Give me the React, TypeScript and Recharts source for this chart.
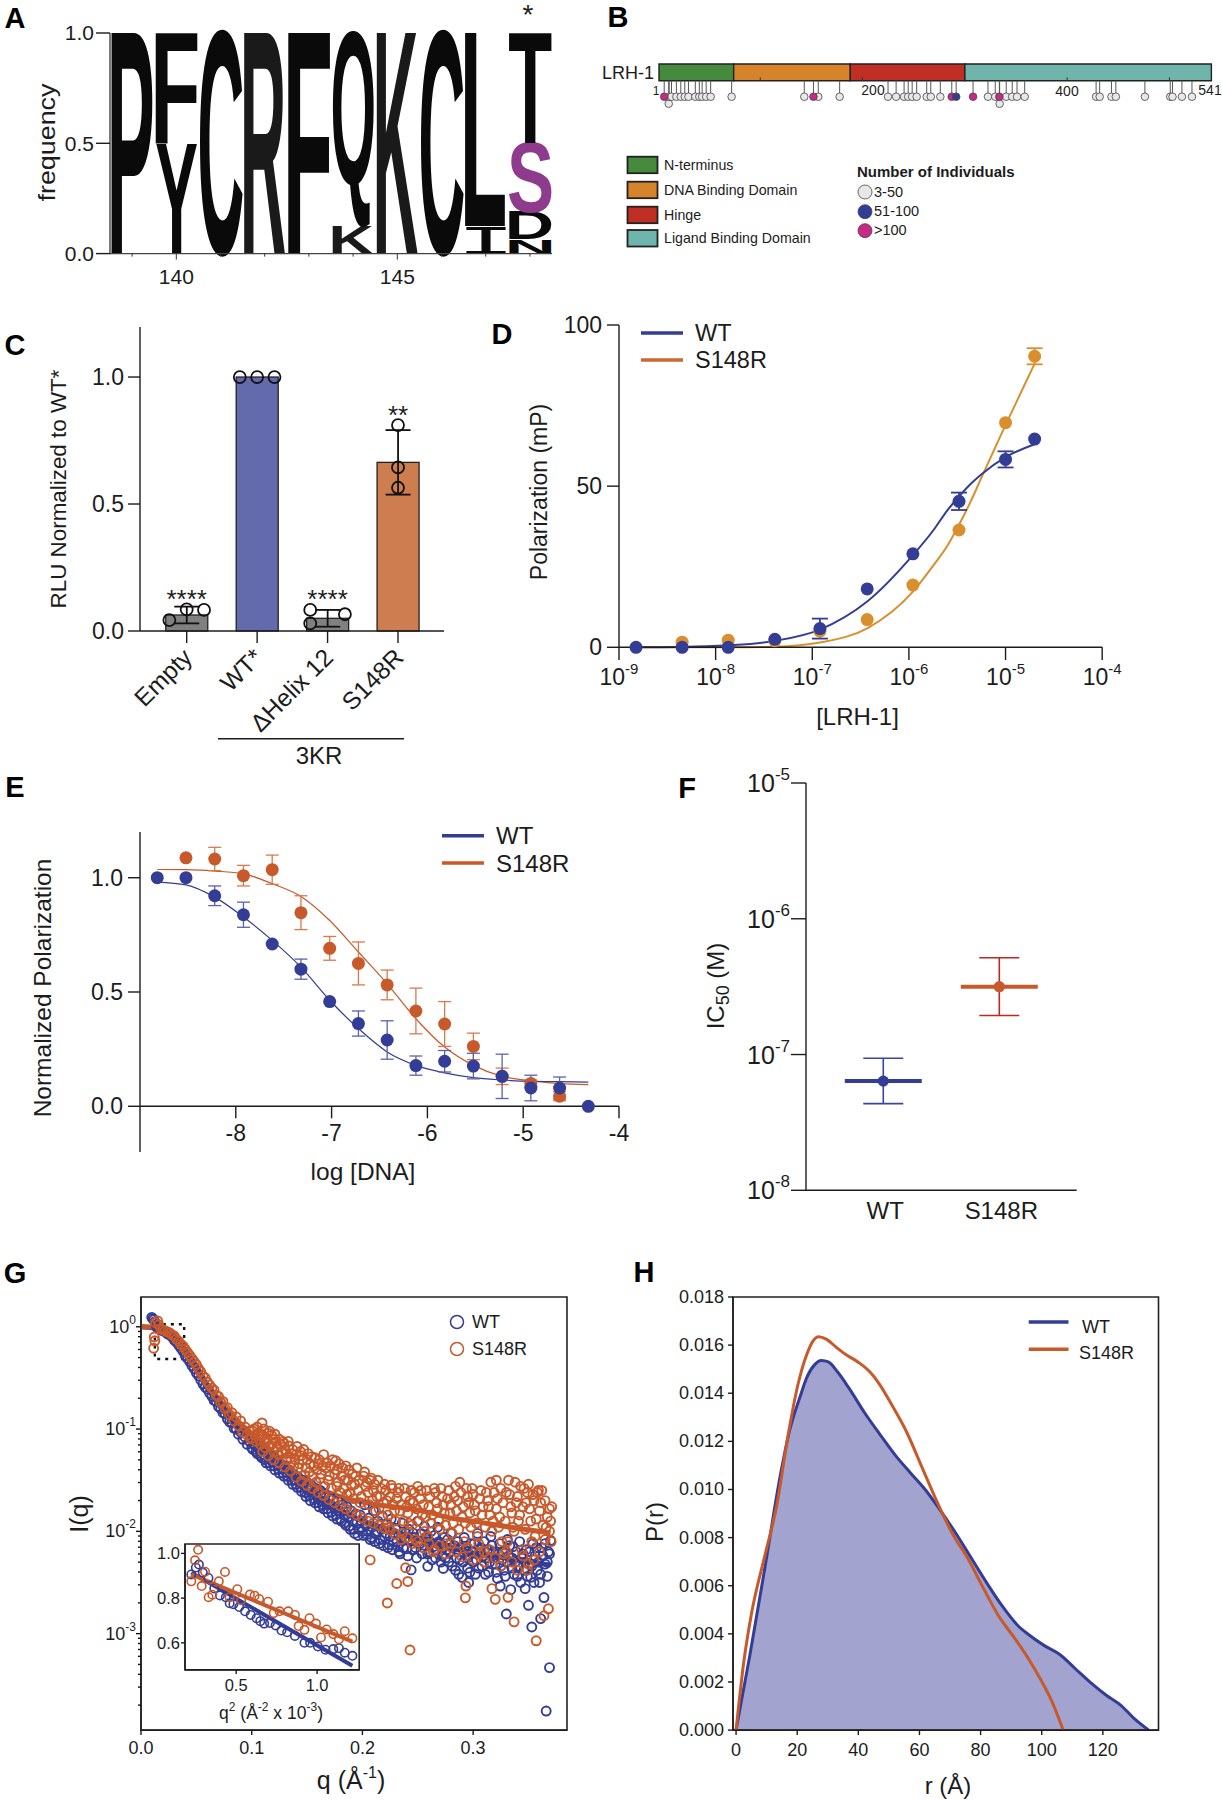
import React from 'react';
import {
  ComposedChart,
  Bar,
  Line,
  Area,
  Scatter,
  XAxis,
  YAxis,
  ErrorBar,
  ReferenceArea,
  ReferenceLine,
} from 'recharts';

const FONT = '"Liberation Sans", Arial, sans-serif';
const INK = '#1c1c1c';
const BLUE = '#343d96';
const RED = '#c8592a';
const GOLD = '#d98f2e';

// A: sequence logo, bottom of each stack first
const logoPositions = [139, 140, 141, 142, 143, 144, 145, 146, 147, 148];
const logoStacks: [string, number][][] = [
  [['P', 1]],
  [['Y', 0.5], ['F', 0.5]],
  [['C', 1]],
  [['R', 1]],
  [['F', 1]],
  [['K', 0.125], ['Q', 0.875]],
  [['K', 1]],
  [['C', 1]],
  [['I', 0.125], ['L', 0.875]],
  [['N', 0.065], ['D', 0.125], ['S', 0.31], ['T', 0.5]],
];

// B: protein domains and variant positions
const domains = [
  { name: 'N-terminus', from: 1, to: 74, color: '#468a3e' },
  { name: 'DNA Binding Domain', from: 74, to: 188, color: '#d5842c' },
  { name: 'Hinge', from: 188, to: 300, color: '#c12e24' },
  { name: 'Ligand Binding Domain', from: 300, to: 541, color: '#6fb5ac' },
];
const variantsLow = [10.9, 13.2, 18, 22.3, 26.2, 29.8, 36.5, 40.4, 43.2, 47.1, 51.5, 72, 143, 156.7, 177.6, 224.9, 232.8, 240.6, 244.6, 248.5, 252.9, 262.7, 266.7, 276, 322.6, 329.7, 340.4, 346.3, 351, 358.5, 428.3, 431.8, 443.3, 447.6, 476, 500.8, 503, 512.2, 522];
const variantsMid = [291.5];
const variantsHigh = [6.1, 152, 287.2, 308, 333.7];
const variantsLowerRow = [10.5, 334];
const domainTicks = [100, 200, 300, 400, 500];

// C: reporter assay
const assayNames = ['Empty', 'WT*', 'ΔHelix 12', 'S148R'];
const assayMeans = [0.063, 1, 0.05, 0.664];
const assayErrors = [0.033, 0, 0.033, 0.127];
const assayColors = ['#808080', '#636bac', '#808080', '#cd7d4f'];
const assayReplicates = [
  [0.754, 0.043], [1, 0.085], [1.246, 0.083],
  [1.754, 1], [2, 1], [2.246, 1],
  [2.754, 0.083], [2.754, 0.03], [3.246, 0.066],
  [4, 0.811], [4, 0.644], [4, 0.564],
];
const assayStars: [number, number, string][] = [[1, 0.15, '****'], [3, 0.148, '****'], [4, 0.875, '**']];

// D: polarization
const bindX = [1.5e-9, 4.5e-9, 1.35e-8, 4.1e-8, 1.2e-7, 3.7e-7, 1.1e-6, 3.3e-6, 1e-5, 2e-5];
const bindWt = [0, 0, 0, 2.5, 5.8, 18.1, 29, 45.3, 58.3, 64.6];
const bindWtErr = [0, 0, 0, 0, 3.1, 0, 0, 2.7, 2.5, 0];
const bindMut = [0, 1.6, 2.2, 2, 5, 8.6, 19.3, 36.4, 69.7, 90.3];
const bindMutErr = [0, 0, 0, 0, 0, 0, 0, 0, 0, 2.5];
const bindCurveX = [1.5e-9, 4.5e-9, 1.35e-8, 4.1e-8, 1.2e-7, 3.7e-7, 1.1e-6, 1.8e-6, 2.5e-6, 3.3e-6, 4.4e-6, 5.6e-6, 1e-5, 2e-5];
const bindCurveWt = [0, 0.1, 0.6, 2, 5.5, 14.2, 28.6, 36.4, 42.5, 46.8, 50.8, 53.6, 59, 63];
const bindCurveMut = [0, 0, 0, 0.2, 1.5, 5.9, 17.3, 25.5, 31.5, 38, 45.5, 52.5, 69, 88];

// E: competition
const compX = [-8.82, -8.52, -8.22, -7.92, -7.62, -7.32, -7.02, -6.72, -6.42, -6.12, -5.82, -5.52, -5.22, -4.92, -4.62, -4.32];
const compWt = [1, 1, 0.921, 0.838, 0.71, 0.6, 0.458, 0.362, 0.29, 0.178, 0.197, 0.176, 0.131, 0.08, 0.08, 0];
const compWtErr = [0, 0, 0.043, 0.055, 0, 0.044, 0, 0.055, 0.084, 0.042, 0.047, 0.056, 0.097, 0.056, 0.048, 0];
const compMutX = [-8.52, -8.22, -7.92, -7.62, -7.32, -7.02, -6.72, -6.42, -6.12, -5.82, -5.52, -5.22, -4.92, -4.62];
const compMut = [1.087, 1.082, 1.009, 1.035, 0.847, 0.691, 0.625, 0.531, 0.417, 0.36, 0.262, 0.131, 0.1, 0.044];
const compMutErr = [0, 0.051, 0.045, 0.064, 0.074, 0.052, 0.094, 0.065, 0.1, 0.098, 0.058, 0.036, 0.015, 0.02];
const compCurveWt = [0.981, 0.969, 0.915, 0.828, 0.726, 0.609, 0.464, 0.34, 0.238, 0.179, 0.146, 0.125, 0.115, 0.109, 0.108, 0.106];
const compCurveMut = [1.036, 1.035, 1.029, 1.017, 0.974, 0.918, 0.813, 0.675, 0.536, 0.383, 0.259, 0.179, 0.131, 0.111, 0.099, 0.095];

// F: IC50 [mean, lower, upper]
const ic50Wt = [6.37e-8, 4.35e-8, 9.4e-8];
const ic50Mut = [3.16e-7, 1.94e-7, 5.16e-7];

// G: SAXS, [q, log10 I]
const saxsWt = [[.0097,.092],[.0105,.08],[.0115,.07],[.0125,.05],[.014,.0],[.016,-.02],[.018,-.03],[.02,-.04],[.022,-.05],[.024,-.07],[.026,-.08],[.028,-.1],[.03,-.13],[.032,-.15],[.034,-.18],[.036,-.21],[.038,-.24],[.04,-.28],[.042,-.31],[.044,-.34],[.046,-.38],[.048,-.41],[.05,-.45],[.052,-.48],[.054,-.52],[.056,-.56],[.058,-.59],[.06,-.61],[.062,-.65],[.064,-.68],[.066,-.72],[.068,-.73],[.07,-.78],[.072,-.8],[.074,-.84],[.076,-.85],[.078,-.9],[.08,-.93],[.082,-.94],[.084,-.99],[.086,-1],[.088,-1.05],[.09,-1.03],[.092,-1.1],[.094,-1.08],[.096,-1.15],[.098,-1.12],[.1,-1.18],[.102,-1.14],[.104,-1.22],[.106,-1.18],[.108,-1.26],[.11,-1.21],[.112,-1.3],[.114,-1.24],[.116,-1.33],[.118,-1.27],[.12,-1.36],[.122,-1.31],[.124,-1.39],[.126,-1.34],[.128,-1.43],[.13,-1.36],[.132,-1.46],[.134,-1.4],[.136,-1.5],[.138,-1.44],[.14,-1.54],[.142,-1.47],[.144,-1.57],[.146,-1.5],[.148,-1.62],[.15,-1.52],[.152,-1.65],[.154,-1.55],[.156,-1.68],[.158,-1.58],[.16,-1.72],[.162,-1.6],[.164,-1.74],[.166,-1.63],[.168,-1.78],[.17,-1.66],[.172,-1.81],[.174,-1.68],[.176,-1.84],[.178,-1.7],[.18,-1.88],[.182,-1.74],[.184,-1.92],[.186,-1.76],[.188,-1.95],[.19,-1.8],[.192,-1.98],[.194,-1.83],[.196,-2.04],[.198,-1.84],[.2,-2],[.202,-1.74],[.204,-2.03],[.206,-1.87],[.208,-2.06],[.21,-1.8],[.212,-2.02],[.214,-1.9],[.216,-2.08],[.218,-1.85],[.22,-2.05],[.222,-1.93],[.224,-2.13],[.226,-1.88],[.228,-2.1],[.23,-1.97],[.232,-2.15],[.234,-2.22],[.236,-1.92],[.238,-2.08],[.24,-2.17],[.242,-1.98],[.244,-2.377],[.246,-2.02],[.248,-2.16],[.25,-1.9],[.252,-2.12],[.254,-2.22],[.256,-1.95],[.258,-2.1],[.259,-2.342],[.26,-2.2],[.262,-2],[.264,-2.15],[.266,-2.26],[.268,-1.96],[.27,-2.12],[.272,-2.24],[.273,-2.363],[.274,-2.06],[.276,-2.18],[.278,-2.3],[.28,-2.02],[.282,-2.16],[.284,-2.38],[.286,-2.1],[.288,-2.28],[.29,-2.45],[.292,-2.06],[.294,-2.2],[.295,-2.36],[.296,-2.5],[.298,-2.12],[.3,-2.3],[.302,-2.42],[.304,-2.02],[.306,-2.18],[.308,-2.34],[.31,-2.1],[.312,-2.26],[.314,-2.4],[.316,-2.05],[.318,-2.2],[.32,-2.32],[.322,-2.46],[.3245,-2.535],[.324,-2.12],[.326,-2.28],[.328,-2.38],[.33,-2.808],[.331,-2.08],[.332,-2.24],[.334,-2.57],[.335,-2.36],[.336,-2.15],[.338,-2.3],[.34,-2.44],[.342,-2.1],[.344,-2.26],[.346,-2.38],[.347,-2.56],[.348,-2.18],[.35,-2.723],[.351,-2.32],[.352,-2.45],[.353,-2.935],[.354,-2.12],[.356,-2.24],[.358,-2.38],[.36,-2.5],[.361,-2.853],[.362,-2.16],[.364,-2.647],[.365,-2.32],[.366,-3.757],[.367,-2.44],[.368,-2.2],[.369,-3.332],[.37,-2.09]];
const saxsWtDense = [[.101,-1.2],[.103,-1.16],[.105,-1.24],[.107,-1.2],[.109,-1.28],[.111,-1.25],[.113,-1.33],[.115,-1.28],[.117,-1.36],[.119,-1.32],[.121,-1.4],[.123,-1.35],[.125,-1.43],[.127,-1.38],[.129,-1.46],[.131,-1.42],[.133,-1.5],[.135,-1.44],[.137,-1.54],[.139,-1.5],[.141,-1.57],[.143,-1.52],[.145,-1.61],[.147,-1.55],[.149,-1.66],[.151,-1.6],[.153,-1.7],[.155,-1.62],[.157,-1.72],[.159,-1.66],[.161,-1.76],[.163,-1.7],[.165,-1.78],[.167,-1.72],[.169,-1.82],[.171,-1.74],[.173,-1.85],[.175,-1.78],[.177,-1.88],[.179,-1.8],[.181,-1.9],[.183,-1.84],[.185,-1.94],[.187,-1.86],[.189,-1.98],[.191,-1.9],[.193,-2.02],[.195,-1.92],[.197,-1.98],[.199,-1.9],[.201,-2.04],[.203,-1.94],[.205,-2],[.207,-2.08],[.209,-1.96],[.211,-2.1],[.213,-2],[.215,-2.12],[.217,-1.98],[.219,-2.14],[.221,-2.02],[.223,-2.16],[.225,-2.05],[.227,-2.18],[.229,-2.02],[.231,-2.1],[.233,-2.2],[.235,-2.06],[.237,-2.16],[.239,-2.02],[.241,-2.24],[.243,-2.08],[.245,-2.18],[.247,-2.06],[.249,-2.26],[.251,-2.1],[.253,-2.02],[.255,-2.16],[.257,-2.06],[.259,-2.22],[.261,-2.1],[.263,-2.28],[.265,-2.04],[.267,-2.18],[.269,-2.1],[.271,-2.3],[.273,-2.16],[.275,-2.26],[.277,-2.08],[.279,-2.2],[.281,-2.34],[.283,-2.14],[.285,-2.26],[.287,-2.42],[.289,-2.16],[.291,-2.3],[.293,-2.18],[.295,-2.26],[.297,-2.4],[.299,-2.2],[.301,-2.12],[.303,-2.28],[.305,-2.36],[.307,-2.16],[.309,-2.24],[.311,-2.42],[.313,-2.18],[.315,-2.3],[.317,-2.14],[.319,-2.26],[.321,-2.4],[.323,-2.22],[.325,-2.34],[.327,-2.2],[.329,-2.44],[.331,-2.3],[.333,-2.14],[.335,-2.26],[.337,-2.42],[.339,-2.2],[.341,-2.34],[.343,-2.5],[.345,-2.22],[.347,-2.3],[.349,-2.44],[.351,-2.2],[.353,-2.34],[.355,-2.5],[.357,-2.16],[.359,-2.3],[.361,-2.42],[.363,-2.24],[.365,-2.12],[.367,-2.3],[.369,-2.22]];
const saxsMut = [[.0114,-.21],[.0125,-.137],[.012,-.1],[.013,.04],[.015,.058],[.016,.02],[.018,-.02],[.02,-.03],[.022,-.04],[.024,-.05],[.026,-.06],[.028,-.08],[.03,-.09],[.032,-.12],[.034,-.14],[.036,-.17],[.038,-.19],[.04,-.22],[.042,-.25],[.044,-.28],[.046,-.31],[.048,-.34],[.05,-.37],[.052,-.41],[.054,-.44],[.056,-.48],[.058,-.5],[.06,-.54],[.062,-.57],[.064,-.6],[.066,-.62],[.068,-.67],[.07,-.68],[.072,-.74],[.074,-.73],[.076,-.8],[.078,-.79],[.08,-.86],[.082,-.84],[.084,-.92],[.086,-.88],[.088,-.97],[.09,-.92],[.092,-1.03],[.094,-.98],[.096,-1.06],[.098,-1.02],[.099,-1.096],[.1,-1.09],[.102,-1],[.104,-1.12],[.106,-1.04],[.108,-1.15],[.1093,-.94],[.11,-1.07],[.112,-1.18],[.114,-1.09],[.116,-1.02],[.118,-1.06],[.12,-1.22],[.122,-1.12],[.124,-1.25],[.126,-1.15],[.128,-1.12],[.13,-1.2],[.132,-1.3],[.1336,-1.165],[.136,-1.24],[.138,-1.36],[.14,-1.25],[.142,-1.38],[.144,-1.22],[.146,-1.3],[.148,-1.45],[.15,-1.3],[.152,-1.42],[.154,-1.27],[.156,-1.36],[.158,-1.52],[.16,-1.34],[.162,-1.48],[.164,-1.36],[.166,-1.56],[.168,-1.33],[.17,-1.46],[.172,-1.58],[.176,-1.31],[.177,-1.4],[.178,-1.52],[.18,-1.62],[.182,-1.38],[.184,-1.5],[.186,-1.64],[.188,-1.4],[.19,-1.55],[.192,-1.68],[.194,-1.46],[.196,-1.6],[.198,-1.72],[.202,-1.42],[.203,-1.56],[.204,-1.52],[.206,-1.74],[.207,-2.279],[.208,-1.48],[.21,-1.6],[.212,-1.8],[.214,-1.5],[.216,-1.66],[.218,-1.86],[.22,-1.54],[.222,-1.7],[.2225,-2.7],[.224,-1.96],[.226,-1.55],[.228,-1.74],[.23,-1.9],[.231,-2.51],[.232,-1.62],[.234,-1.8],[.236,-2.02],[.238,-1.58],[.239,-2.356],[.24,-1.76],[.241,-2.49],[.242,-1.92],[.243,-3.16],[.244,-1.6],[.246,-1.72],[.248,-2.08],[.25,-1.56],[.252,-1.68],[.254,-1.84],[.256,-2],[.258,-1.6],[.26,-1.76],[.262,-1.92],[.264,-2.2],[.266,-1.62],[.268,-1.78],[.27,-1.98],[.272,-1.66],[.274,-1.82],[.276,-2.12],[.278,-1.6],[.28,-1.74],[.282,-1.92],[.284,-1.56],[.286,-1.7],[.288,-1.52],[.29,-1.86],[.292,-2.1],[.293,-2.65],[.2935,-2.535],[.294,-1.58],[.296,-1.72],[.298,-1.96],[.3,-1.64],[.302,-1.8],[.304,-2.05],[.306,-1.68],[.308,-1.84],[.31,-2.2],[.312,-1.62],[.314,-1.76],[.316,-1.52],[.317,-2.56],[.318,-1.9],[.32,-2.665],[.321,-1.5],[.322,-1.68],[.324,-1.86],[.326,-2.1],[.328,-2.22],[.33,-1.62],[.3315,-2.645],[.332,-1.5],[.334,-1.76],[.336,-1.96],[.337,-2.885],[.338,-1.52],[.34,-1.66],[.342,-1.84],[.344,-2.18],[.346,-1.58],[.348,-1.72],[.349,-2.38],[.35,-1.54],[.352,-1.9],[.354,-1.64],[.356,-2.05],[.357,-3.07],[.358,-1.62],[.36,-1.8],[.362,-1.6],[.364,-2.825],[.365,-1.7],[.366,-1.96],[.368,-2.757],[.369,-1.78],[.37,-1.9],[.3705,-2.1],[.371,-1.76]];
const saxsMutDense = [[.101,-1.02],[.103,-1.06],[.105,-.98],[.107,-1.1],[.109,-1.05],[.111,-1],[.113,-1.13],[.115,-1.04],[.117,-1.16],[.119,-1.1],[.121,-1.05],[.123,-1.18],[.125,-1.1],[.127,-1.22],[.129,-1.14],[.131,-1.24],[.133,-1.12],[.135,-1.28],[.137,-1.2],[.139,-1.3],[.141,-1.17],[.143,-1.34],[.145,-1.26],[.147,-1.2],[.149,-1.38],[.151,-1.24],[.153,-1.34],[.155,-1.46],[.157,-1.28],[.159,-1.4],[.161,-1.3],[.163,-1.44],[.165,-1.25],[.167,-1.38],[.169,-1.5],[.171,-1.36],[.173,-1.3],[.175,-1.44],[.177,-1.56],[.179,-1.34],[.181,-1.46],[.183,-1.58],[.185,-1.36],[.187,-1.5],[.189,-1.62],[.191,-1.44],[.193,-1.54],[.195,-1.38],[.197,-1.5],[.199,-1.66],[.201,-1.46],[.205,-1.62],[.207,-1.5],[.209,-1.7],[.211,-1.54],[.213,-1.66],[.215,-1.78],[.217,-1.58],[.219,-1.72],[.221,-1.6],[.223,-1.84],[.225,-1.66],[.227,-1.58],[.229,-1.8],[.231,-1.68],[.233,-1.58],[.235,-1.74],[.237,-1.9],[.239,-1.66],[.241,-1.82],[.243,-1.7],[.245,-1.94],[.247,-1.62],[.249,-1.78],[.251,-1.9],[.253,-1.6],[.255,-1.74],[.257,-1.86],[.259,-2.05],[.261,-1.66],[.263,-1.84],[.265,-1.58],[.267,-1.72],[.269,-1.9],[.271,-1.58],[.273,-1.74],[.275,-1.94],[.277,-1.68],[.279,-1.82],[.281,-2.02],[.283,-1.66],[.285,-1.8],[.287,-1.98],[.289,-1.62],[.291,-1.76],[.293,-1.92],[.295,-1.66],[.297,-1.82],[.299,-1.58],[.301,-1.74],[.303,-1.92],[.305,-2.12],[.307,-1.6],[.309,-1.76],[.311,-1.96],[.313,-1.7],[.315,-1.84],[.317,-2],[.319,-1.62],[.321,-1.78],[.323,-1.96],[.325,-1.58],[.327,-1.72],[.329,-1.9],[.331,-2.1],[.333,-1.64],[.335,-1.82],[.337,-2],[.339,-1.72],[.341,-1.9],[.343,-1.56],[.345,-1.76],[.347,-1.98],[.349,-1.62],[.351,-1.78],[.353,-2.1],[.355,-1.7],[.357,-1.88],[.359,-1.6],[.361,-1.72],[.363,-1.94],[.365,-2.08],[.367,-1.86],[.369,-2]];
const saxsMutLow = [[.11,-1.22],[.115,-1.26],[.12,-1.3],[.125,-1.33],[.13,-1.37],[.135,-1.41],[.14,-1.47],[.145,-1.51],[.15,-1.55],[.155,-1.58],[.16,-1.62],[.165,-1.65],[.17,-1.69],[.175,-1.72],[.18,-1.75],[.185,-1.78],[.19,-1.81],[.195,-1.84],[.2,-1.87],[.205,-1.9],[.21,-1.92],[.215,-1.94],[.22,-1.97],[.225,-1.99],[.23,-2.03],[.235,-2.08],[.24,-2.06],[.245,-2.12],[.25,-2.1],[.255,-2.16],[.26,-2.12],[.265,-2.18],[.27,-2.14],[.275,-2.22],[.28,-2.12],[.285,-2.2],[.29,-2.25],[.295,-2.16],[.3,-2.28],[.305,-2.22],[.31,-2.3],[.315,-2.18],[.32,-2.26],[.325,-2.34],[.33,-2.2],[.335,-2.3],[.34,-2.38],[.345,-2.24],[.35,-2.32],[.355,-2.28],[.36,-2.2]];
const saxsFitWt = [[.0001,0],[.01,-.01],[.02,-.04],[.03,-.12],[.04,-.27],[.05,-.43],[.06,-.6],[.07,-.76],[.08,-.9],[.1,-1.11],[.12,-1.3],[.14,-1.507],[.16,-1.68],[.18,-1.8],[.2,-1.9],[.22,-1.97],[.24,-2.04],[.26,-2.1],[.28,-2.157],[.3,-2.21],[.32,-2.245],[.34,-2.28],[.37,-2.33]];
const saxsFitMut = [[.0001,0],[.01,-.005],[.02,-.035],[.03,-.1],[.04,-.22],[.05,-.38],[.06,-.565],[.07,-.7],[.08,-.84],[.1,-1.045],[.12,-1.233],[.14,-1.44],[.16,-1.575],[.18,-1.66],[.2,-1.714],[.22,-1.75],[.24,-1.775],[.26,-1.815],[.28,-1.87],[.3,-1.9],[.32,-1.936],[.34,-1.97],[.37,-2.015]];

// G inset: Guinier region [q^2, I]
const guinierWt = [[.223,.906],[.251,.937],[.27,.95],[.294,.914],[.329,.89],[.365,.843],[.4,.812],[.436,.804],[.46,.777],[.483,.773],[.519,.76],[.555,.741],[.59,.725],[.626,.71],[.649,.697],[.673,.686],[.709,.689],[.744,.678],[.78,.655],[.815,.647],[.863,.631],[.922,.6],[.957,.6],[1.005,.584],[1.052,.569],[1.1,.572],[1.135,.576],[1.171,.556],[1.218,.542]];
const guinierMut = [[.223,.875],[.246,.969],[.265,1.016],[.287,.854],[.308,.918],[.33,.804],[.353,.815],[.393,.875],[.431,.917],[.46,.804],[.507,.84],[.531,.791],[.585,.816],[.614,.811],[.642,.796],[.697,.784],[.732,.733],[.768,.741],[.822,.741],[.863,.725],[.886,.675],[.922,.658],[.953,.71],[.993,.686],[1.024,.624],[1.059,.66],[1.1,.639],[1.135,.616],[1.171,.652],[1.218,.62]];
const guinierFitWt = [[.223,.914],[1.218,.498]];
const guinierFitMut = [[.223,.906],[1.218,.605]];

// H: P(r)
const prWt = [[0,0],[4.5,.0031],[9.5,.0068],[14.5,.0106],[17.6,.0125],[20.8,.0138],[23.3,.0147],[25.8,.0152],[27.9,.01536],[30.2,.0153],[33.3,.01487],[37,.0142],[42,.0132],[47,.0123],[52,.01144],[57,.0107],[62,.00998],[67,.0091],[72,.00816],[77,.00714],[82,.00612],[87,.00517],[92,.00437],[96,.00394],[101,.0035],[106,.00313],[111,.00255],[116,.00197],[121,.00146],[126,.00102],[130,.00051],[135,0]];
const prMut = [[0,0],[2.6,.0029],[5.1,.00488],[9.5,.00729],[13.3,.00933],[17,.01224],[20.1,.01428],[23.3,.01567],[25.2,.01618],[27,.01635],[29.5,.01625],[32.7,.01592],[35.8,.01562],[40.2,.01527],[43.9,.01487],[47,.01436],[50.8,.01355],[55.8,.01239],[60.8,.01093],[65.8,.00947],[70.8,.00816],[75.8,.00714],[80.9,.0059],[85.9,.00474],[90.9,.00386],[95.2,.00306],[99.6,.00211],[103.4,.00117],[107,0]];

const pairs = (rows: number[][]) => rows.map(([x, y]) => ({ x, y }));
const logPairs = (rows: number[][]) => rows.map(([x, y]) => ({ x, y: Math.pow(10, y) }));
const zipRows = (xs: number[], ys: number[], errs?: number[]) =>
  xs.map((x, i) => ({ x, y: ys[i], err: errs && errs[i] ? errs[i] : undefined }));

// plot frame: box is the plot rectangle in page pixels, pad is room for the axes
function Plot({ box, pad = {}, hidden, data, children }: any) {
  const { l = 70, b = 60, t = 12, r = 12 } = pad;
  const [x0, y0, x1, y1] = box;
  const width = x1 - x0 + l + r;
  const height = y1 - y0 + b + t;
  return (
    <div style={{ position: 'absolute', left: x0 - l, top: y0 - t, width, height }}>
      <ComposedChart
        width={width}
        height={height}
        data={data}
        margin={{ top: t, right: r, bottom: hidden ? b : 0, left: hidden ? l : 0 }}
      >
        {children}
      </ComposedChart>
    </div>
  );
}

const yTick = (len: number, size: number, fmt: (v: number) => any, gap = 2) => (p: any) => (
  <g>
    <line x1={p.x - len} x2={p.x} y1={p.y} y2={p.y} stroke={INK} strokeWidth={1.4} />
    <text x={p.x - len - gap} y={p.y} textAnchor="end" dominantBaseline="central" fontSize={size} fontFamily={FONT} fill={INK}>
      {fmt(p.payload.value)}
    </text>
  </g>
);

const xTick = (len: number, size: number, gap: number, fmt: (v: number) => any) => (p: any) => (
  <g>
    <line x1={p.x} x2={p.x} y1={p.y} y2={p.y + len} stroke={INK} strokeWidth={1.4} />
    <text x={p.x} y={p.y + gap} textAnchor="middle" dominantBaseline="central" fontSize={size} fontFamily={FONT} fill={INK}>
      {fmt(p.payload.value)}
    </text>
  </g>
);

const pow10Label = (supSize: number, dy: number) => (v: number) => (
  <>
    10
    <tspan dy={-dy} fontSize={supSize}>{Math.round(Math.log10(v))}</tspan>
  </>
);

const axisProps = { tickLine: false, tickSize: 0, tickMargin: 0, interval: 0 as const, stroke: INK, strokeWidth: 1.4 };

const dot = (r: number, fill: string) => (p: any) => <circle cx={p.cx} cy={p.cy} r={r} fill={fill} />;
const ring = (r: number, stroke: string, w = 1.4) => (p: any) => (
  <circle cx={p.cx} cy={p.cy} r={r} fill="none" stroke={stroke} strokeWidth={w} />
);

// A: [left bearing, ink width, descent] of each glyph in em
const inkTable: Record<string, [number, number, number]> = {
  P: [0.073, 0.57, 0], F: [0.073, 0.5, 0], C: [0.047, 0.63, 0], R: [0.073, 0.64, 0], Q: [0.043, 0.7, 0.19], K: [0.073, 0.65, 0],
  L: [0.073, 0.53, 0], T: [0.021, 0.57, 0], S: [0.04, 0.58, 0], Y: [0.014, 0.64, 0], I: [0.09, 0.42, 0], D: [0.073, 0.6, 0], N: [0.073, 0.58, 0],
};

function Letter({ x, y, width, height, letter }: any) {
  if (!letter || !height) return null;
  const [lsb, ink, descent] = inkTable[letter];
  const F = 100;
  const sx = width / (ink * F);
  const sy = height / ((0.688 + descent) * F);
  const isI = letter === 'I';
  return (
    <text
      transform={`translate(${x - lsb * F * sx},${y + height - descent * F * sy}) scale(${sx},${sy})`}
      fontSize={F}
      fontWeight={isI ? 400 : 700}
      fontFamily={isI ? '"Liberation Mono"' : FONT}
      fill={letter === 'S' ? '#8e3a8d' : letter === 'R' || letter === 'K' ? '#1a1a1a' : '#0a0a0a'}
    >
      {letter}
    </text>
  );
}

const logoData = logoPositions.map((pos, i) => {
  const row: any = { pos };
  logoStacks[i].forEach(([l, f], j) => {
    row['f' + j] = f;
    row['l' + j] = l;
  });
  return row;
});

function LogoPanel() {
  return (
    <Plot box={[110, 32.7, 552, 253.3]} pad={{ l: 60, b: 40 }} data={logoData}>
      <XAxis
        dataKey="pos"
        {...axisProps}
        stroke="#444"
        height={40}
        tick={(p: any) => {
          const major = p.payload.value === 140 || p.payload.value === 145;
          return (
            <g>
              <line x1={p.x} x2={p.x} y1={p.y} y2={p.y + (major ? 6 : 3)} stroke="#333" strokeWidth={1} />
              {major && (
                <text x={p.x} y={p.y + 23} textAnchor="middle" dominantBaseline="central" fontSize={21} fontFamily={FONT} fill={INK}>
                  {p.payload.value}
                </text>
              )}
            </g>
          );
        }}
      />
      <YAxis {...axisProps} stroke="#444" width={60} type="number" domain={[0, 1]} ticks={[0, 0.5, 1]} tick={yTick(14, 21, (v) => v.toFixed(1), 2)} />
      {[0, 1, 2, 3].map((j) => (
        <Bar
          key={j}
          dataKey={'f' + j}
          stackId="logo"
          barSize={41}
          isAnimationActive={false}
          shape={(p: any) => <Letter {...p} letter={p.payload['l' + j]} />}
        />
      ))}
    </Plot>
  );
}

// B
const variantRows = (list: number[], y: number) => list.map((x) => ({ x, y }));

const lollipop = (fill: string) => (p: any) => (
  <g>
    <line x1={p.cx} x2={p.cx} y1={p.cy} y2={p.cy + p.payload.y * 16.7} stroke="#555" strokeWidth={1} />
    <circle cx={p.cx} cy={p.cy} r={3.8} fill={fill} stroke="#444" strokeWidth={0.8} />
  </g>
);

function DomainPanel() {
  return (
    <Plot box={[659.4, 64, 1211.8, 112]} pad={{ l: 2, b: 2, t: 2, r: 4 }} hidden>
      <XAxis type="number" dataKey="x" domain={[1, 541]} hide />
      <YAxis type="number" dataKey="y" domain={[-1.874, 1]} hide />
      {domains.map((d) => (
        <ReferenceArea key={d.name} x1={d.from} x2={d.to} y1={0} y2={1} fill={d.color} fillOpacity={1} stroke="#222" strokeWidth={1.4} />
      ))}
      {domainTicks.map((t) => (
        <ReferenceLine key={t} segment={[{ x: t, y: 0 }, { x: t, y: 0.2 }]} stroke="#333" strokeWidth={1} />
      ))}
      <Scatter data={variantRows(variantsLowerRow, -1.38)} isAnimationActive={false} shape={lollipop('#e8e8e8')} />
      <Scatter data={variantRows(variantsLow, -0.96)} isAnimationActive={false} shape={lollipop('#e8e8e8')} />
      <Scatter data={variantRows(variantsHigh, -0.96)} isAnimationActive={false} shape={lollipop('#c62a85')} />
      <Scatter data={variantRows(variantsMid, -0.96)} isAnimationActive={false} shape={lollipop('#343d96')} />
    </Plot>
  );
}

// C
const assayBars = assayNames.map((name, i) => ({ x: i + 1, y: assayMeans[i], err: assayErrors[i] || undefined, name }));

function AssayPanel() {
  return (
    <Plot box={[140, 327, 444, 631]} pad={{ l: 60, b: 110 }} data={assayBars}>
      <XAxis
        type="number"
        dataKey="x"
        domain={[0.337, 4.653]}
        ticks={[1, 2, 3, 4]}
        {...axisProps}
        height={110}
        tick={(p: any) => (
          <g>
            <line x1={p.x} x2={p.x} y1={p.y} y2={p.y + 12} stroke={INK} strokeWidth={1.4} />
            <text
              transform={`translate(${p.x + 1},${p.y + 22}) rotate(-45)`}
              textAnchor="end"
              dominantBaseline="central"
              fontSize={24.5}
              fontFamily={FONT}
              fill={INK}
            >
              {assayNames[p.payload.value - 1]}
            </text>
          </g>
        )}
      />
      <YAxis type="number" dataKey="y" domain={[0, 1.197]} ticks={[0, 0.5, 1]} {...axisProps} width={60} tick={yTick(12, 23, (v) => v.toFixed(1), 4)} />
      <Bar
        dataKey="y"
        isAnimationActive={false}
        shape={(p: any) => (
          <rect x={p.x + p.width / 2 - 21} y={p.y} width={42} height={p.height} fill={assayColors[p.index]} stroke="#222" strokeWidth={1.3} />
        )}
      >
        <ErrorBar dataKey="err" direction="y" width={12.5} stroke="#111" strokeWidth={1.8} />
      </Bar>
      <Scatter data={pairs(assayReplicates)} isAnimationActive={false} shape={ring(6, '#111', 1.8)} />
      <Scatter
        data={assayStars.map(([x, y, label]) => ({ x, y, label }))}
        isAnimationActive={false}
        shape={(p: any) => (
          <text x={p.cx} y={p.cy + 6} textAnchor="middle" dominantBaseline="central" fontSize={26} fontFamily={FONT} fill={INK}>
            {p.payload.label}
          </text>
        )}
      />
    </Plot>
  );
}

// D
function BindingPanel() {
  const ticks = [1e-9, 1e-8, 1e-7, 1e-6, 1e-5, 1e-4];
  return (
    <Plot box={[618.8, 325, 1102, 647.3]} pad={{ l: 60, b: 50, r: 30 }}>
      <XAxis
        type="number"
        dataKey="x"
        scale="log"
        domain={[1e-9, 1e-4]}
        ticks={ticks}
        allowDataOverflow
        {...axisProps}
        height={50}
        tick={xTick(12.7, 23, 29.4, pow10Label(15, 9))}
      />
      <YAxis type="number" dataKey="y" domain={[0, 100]} ticks={[0, 50, 100]} {...axisProps} width={60} tick={yTick(12, 23, (v) => v, 5)} />
      <Line data={zipRows(bindCurveX, bindCurveMut)} dataKey="y" type="monotone" stroke={GOLD} strokeWidth={2} dot={false} isAnimationActive={false} />
      <Scatter data={zipRows(bindX.slice(1), bindMut.slice(1), bindMutErr.slice(1))} isAnimationActive={false} shape={dot(6.5, GOLD)}>
        <ErrorBar dataKey="err" direction="y" width={8} stroke={GOLD} strokeWidth={1.8} />
      </Scatter>
      <Line data={zipRows(bindCurveX, bindCurveWt)} dataKey="y" type="monotone" stroke={BLUE} strokeWidth={2} dot={false} isAnimationActive={false} />
      <Scatter data={zipRows(bindX, bindWt, bindWtErr)} isAnimationActive={false} shape={dot(6.5, BLUE)}>
        <ErrorBar dataKey="err" direction="y" width={8} stroke={BLUE} strokeWidth={1.8} />
      </Scatter>
    </Plot>
  );
}

// E
function CompetitionPanel() {
  return (
    <Plot box={[139.7, 831.7, 618.7, 1151.7]} pad={{ l: 60, b: 40, r: 20 }}>
      <XAxis
        type="number"
        dataKey="x"
        domain={[-9, -4]}
        ticks={[-8, -7, -6, -5, -4]}
        {...axisProps}
        axisLine={false}
        height={40}
        tick={(p: any) => (
          <g>
            <line x1={p.x} x2={p.x} y1={p.y - 45.7} y2={p.y - 33.7} stroke={INK} strokeWidth={1.4} />
            <text x={p.x} y={p.y - 18.7} textAnchor="middle" dominantBaseline="central" fontSize={23} fontFamily={FONT} fill={INK}>
              {p.payload.value}
            </text>
          </g>
        )}
      />
      <YAxis type="number" dataKey="y" domain={[-0.2, 1.2]} ticks={[0, 0.5, 1]} {...axisProps} width={60} tick={yTick(12, 23, (v) => v.toFixed(1), 5)} />
      <ReferenceLine y={0} stroke={INK} strokeWidth={1.4} />
      <Line data={zipRows(compX, compCurveMut)} dataKey="y" type="monotone" stroke={RED} strokeWidth={1.2} dot={false} isAnimationActive={false} />
      <Scatter data={zipRows(compMutX, compMut, compMutErr)} isAnimationActive={false} shape={dot(6.5, RED)}>
        <ErrorBar dataKey="err" direction="y" width={6.5} stroke="#d9794d" strokeWidth={1.3} />
      </Scatter>
      <Line data={zipRows(compX, compCurveWt)} dataKey="y" type="monotone" stroke={BLUE} strokeWidth={1.2} dot={false} isAnimationActive={false} />
      <Scatter data={zipRows(compX, compWt, compWtErr)} isAnimationActive={false} shape={dot(6.5, BLUE)}>
        <ErrorBar dataKey="err" direction="y" width={6.5} stroke="#5a62ad" strokeWidth={1.3} />
      </Scatter>
    </Plot>
  );
}

// F
function Ic50Panel() {
  const row = (x: number, v: number[]) => ({ x, y: v[0], err: [v[0] - v[1], v[2] - v[0]] });
  const mean = (c: string) => (p: any) => (
    <g>
      <line x1={p.cx - 38.5} x2={p.cx + 38.5} y1={p.cy} y2={p.cy} stroke={c} strokeWidth={4} />
      <circle cx={p.cx} cy={p.cy} r={5.6} fill={c} />
    </g>
  );
  return (
    <Plot box={[806, 782.7, 1076.7, 1190]} pad={{ l: 90, b: 40, t: 30 }}>
      <XAxis
        type="number"
        dataKey="x"
        domain={[0.334, 2.667]}
        ticks={[1, 2]}
        {...axisProps}
        height={40}
        tick={(p: any) => (
          <text x={p.x + 2} y={p.y + 20.7} textAnchor="middle" dominantBaseline="central" fontSize={24} fontFamily={FONT} fill={INK}>
            {p.payload.value === 1 ? 'WT' : 'S148R'}
          </text>
        )}
      />
      <YAxis
        type="number"
        dataKey="y"
        scale="log"
        domain={[1e-8, 1e-5]}
        ticks={[1e-8, 1e-7, 1e-6, 1e-5]}
        allowDataOverflow
        {...axisProps}
        width={90}
        tick={yTick(15, 25, pow10Label(17, 9), 1)}
      />
      <Scatter data={[row(1, ic50Wt)]} isAnimationActive={false} shape={mean(BLUE)}>
        <ErrorBar dataKey="err" direction="y" width={20} stroke="#3a45a0" strokeWidth={1.6} />
      </Scatter>
      <Scatter data={[row(2, ic50Mut)]} isAnimationActive={false} shape={mean(RED)}>
        <ErrorBar dataKey="err" direction="y" width={20} stroke="#c0281f" strokeWidth={1.6} />
      </Scatter>
    </Plot>
  );
}

// G
const saxsDomain = [1.14e-4, 1.955];
const saxsTicks: number[] = [];
[1e-4, 1e-3, 1e-2, 1e-1, 1].forEach((d) => {
  [1, 2, 3, 4, 5, 6, 7, 8, 9].forEach((m) => {
    const v = d * m;
    if (v >= saxsDomain[0] && v <= saxsDomain[1]) saxsTicks.push(v);
  });
});

function SaxsPanel() {
  return (
    <Plot box={[141, 1297.4, 567, 1730.5]} pad={{ l: 70, b: 35 }}>
      <XAxis
        type="number"
        dataKey="x"
        domain={[0, 0.3848]}
        ticks={[0, 0.1, 0.2, 0.3]}
        {...axisProps}
        height={35}
        tick={xTick(5, 18, 18, (v) => v.toFixed(1))}
      />
      <YAxis
        type="number"
        dataKey="y"
        scale="log"
        domain={saxsDomain}
        ticks={saxsTicks}
        allowDataOverflow
        {...axisProps}
        width={70}
        tick={(p: any) => {
          const v = p.payload.value;
          const major = Math.abs(Math.log10(v) - Math.round(Math.log10(v))) < 1e-6;
          return (
            <g>
              <line x1={p.x - (major ? 5 : 3)} x2={p.x} y1={p.y} y2={p.y} stroke="#111" strokeWidth={1.4} />
              {major && (
                <text x={p.x - 5} y={p.y} textAnchor="end" dominantBaseline="central" fontSize={18} fontFamily={FONT} fill={INK}>
                  10
                  <tspan dy={-7} fontSize={12}>{Math.round(Math.log10(v))}</tspan>
                </text>
              )}
            </g>
          );
        }}
      />
      <ReferenceArea x1={0} x2={0.3848} y1={saxsDomain[0]} y2={saxsDomain[1]} fill="none" stroke="#222" strokeWidth={1.6} ifOverflow="visible" />
      <Scatter data={logPairs(saxsWt)} isAnimationActive={false} shape={ring(4.5, BLUE, 1.9)} />
      <Scatter data={logPairs(saxsWtDense)} isAnimationActive={false} shape={ring(4.5, BLUE, 1.9)} />
      <Scatter data={logPairs(saxsMutLow)} isAnimationActive={false} shape={ring(4.5, RED, 1.9)} />
      <Scatter data={logPairs(saxsMut)} isAnimationActive={false} shape={ring(4.5, RED, 1.9)} />
      <Scatter data={logPairs(saxsMutDense)} isAnimationActive={false} shape={ring(4.5, RED, 1.9)} />
      <Line data={logPairs(saxsFitWt)} dataKey="y" type="monotone" stroke={BLUE} strokeWidth={5} dot={false} isAnimationActive={false} />
      <Line data={logPairs(saxsFitMut)} dataKey="y" type="monotone" stroke={RED} strokeWidth={5} dot={false} isAnimationActive={false} />
      <ReferenceArea x1={0.0125} x2={0.039} y1={0.484} y2={1.057} fill="none" stroke="#111" strokeWidth={2.4} strokeDasharray="3 5" />
    </Plot>
  );
}

function InsetPanel() {
  return (
    <Plot box={[184.8, 1544, 359, 1669.9]} pad={{ l: 32, b: 30, t: 4, r: 4 }}>
      <XAxis
        type="number"
        dataKey="x"
        domain={[0.184, 1.26]}
        ticks={[0.5, 1]}
        {...axisProps}
        height={30}
        tick={xTick(4, 16.5, 15, (v) => v.toFixed(1))}
      />
      <YAxis type="number" dataKey="y" domain={[0.479, 1.042]} ticks={[0.6, 0.8, 1]} {...axisProps} width={32} tick={yTick(4, 16.5, (v) => v.toFixed(1), 1)} />
      <ReferenceArea x1={0.184} x2={1.26} y1={0.479} y2={1.042} fill="#fff" fillOpacity={1} stroke="#222" strokeWidth={1.6} ifOverflow="visible" />
      <Scatter data={pairs(guinierWt)} isAnimationActive={false} shape={ring(4.2, BLUE, 1.6)} />
      <Scatter data={pairs(guinierMut)} isAnimationActive={false} shape={ring(4.2, RED, 1.6)} />
      <Line data={pairs(guinierFitWt)} dataKey="y" stroke={BLUE} strokeWidth={4} dot={false} isAnimationActive={false} />
      <Line data={pairs(guinierFitMut)} dataKey="y" stroke={RED} strokeWidth={4} dot={false} isAnimationActive={false} />
    </Plot>
  );
}

// H
function PrPanel() {
  return (
    <Plot box={[733.3, 1297.4, 1158.8, 1730.5]} pad={{ l: 70, b: 35, r: 20 }}>
      <XAxis
        type="number"
        dataKey="x"
        domain={[-1, 138.2]}
        ticks={[0, 20, 40, 60, 80, 100, 120]}
        {...axisProps}
        height={35}
        tick={xTick(5, 18, 19.5, (v) => v)}
      />
      <YAxis
        type="number"
        dataKey="y"
        domain={[0, 0.018]}
        ticks={[0, 0.002, 0.004, 0.006, 0.008, 0.01, 0.012, 0.014, 0.016, 0.018]}
        {...axisProps}
        width={70}
        tick={yTick(5, 18, (v) => v.toFixed(3), 4)}
      />
      <Area data={pairs(prWt)} dataKey="y" type="monotone" fill="#a3a3d0" fillOpacity={1} stroke={BLUE} strokeWidth={3} isAnimationActive={false} />
      <Line data={pairs(prMut)} dataKey="y" type="monotone" stroke={RED} strokeWidth={3} dot={false} isAnimationActive={false} />
      <ReferenceArea x1={-1} x2={138.2} y1={0} y2={0.018} fill="none" stroke="#222" strokeWidth={1.6} ifOverflow="visible" />
    </Plot>
  );
}

// page level text and legends
const T = ({ x, y, size = 23, anchor = 'start', weight = 400, rotate, fill = INK, len, children }: any) => (
  <text
    x={rotate ? undefined : x}
    y={rotate ? undefined : y}
    transform={rotate ? `translate(${x},${y}) rotate(${rotate})` : undefined}
    fontSize={size}
    textAnchor={anchor}
    fontWeight={weight}
    dominantBaseline="central"
    fontFamily={FONT}
    fill={fill}
    textLength={len}
    lengthAdjust={len ? 'spacingAndGlyphs' : undefined}
  >
    {children}
  </text>
);

const panelLetters: [string, number, number][] = [
  ['A', 15, 18], ['B', 618, 17], ['C', 15, 345], ['D', 502, 334],
  ['E', 15, 787], ['F', 687, 788], ['G', 15, 1273], ['H', 644, 1272],
];

const lineLegend = (x0: number, x1: number, tx: number, y1: number, y2: number, size: number, c2: string, ty1 = y1, ty2 = y2, tx2 = tx) => (
  <>
    <line x1={x0} x2={x1} y1={y1} y2={y1} stroke={BLUE} strokeWidth={3.5} />
    <line x1={x0} x2={x1} y1={y2} y2={y2} stroke={c2} strokeWidth={3.5} />
    <T x={tx} y={ty1} size={size}>WT</T>
    <T x={tx2} y={ty2} size={size}>S148R</T>
  </>
);

function Overlay() {
  return (
    <svg width={1222} height={1800} style={{ position: 'absolute', left: 0, top: 0, pointerEvents: 'none' }}>
      {panelLetters.map(([l, x, y]) => (
        <T key={l} x={x} y={y} size={29} weight={700} anchor="middle" fill="#000">{l}</T>
      ))}

      <T x={46} y={142.5} size={24} anchor="middle" rotate={-90} len={118}>frequency</T>
      <T x={528} y={14.5} size={28} anchor="middle">*</T>

      <T x={654} y={72.7} size={18} anchor="end">LRH-1</T>
      <T x={656} y={90.7} size={12} anchor="middle">1</T>
      <T x={873} y={90} size={14} anchor="middle">200</T>
      <T x={1067} y={91} size={14} anchor="middle">400</T>
      <T x={1210} y={89.5} size={14} anchor="middle">541</T>
      {domains.map((d, i) => {
        const y = [156.7, 181.7, 206.7, 230][i];
        return (
          <g key={d.name}>
            <rect x={627.5} y={y} width={30} height={16.5} fill={d.color} stroke="#222" strokeWidth={1.8} />
            <T x={664} y={y + 8} size={14.2}>{d.name}</T>
          </g>
        );
      })}
      <T x={857} y={171.7} size={15} weight={700}>Number of Individuals</T>
      <circle cx={865} cy={192} r={7} fill="#e8e8e8" stroke="#444" strokeWidth={0.8} />
      <circle cx={865} cy={211.7} r={7} fill="#343d96" stroke="#444" strokeWidth={0.8} />
      <circle cx={865} cy={230.7} r={7} fill="#c62a85" stroke="#444" strokeWidth={0.8} />
      <T x={874} y={192} size={14.5}>3-50</T>
      <T x={874} y={210.7} size={14.5}>51-100</T>
      <T x={874} y={229.7} size={14.5}>&gt;100</T>

      <T x={58} y={489} size={22.4} anchor="middle" rotate={-90}>RLU Normalized to WT*</T>
      <line x1={218} x2={404} y1={738.7} y2={738.7} stroke={INK} strokeWidth={1.4} />
      <T x={319} y={755} size={24} anchor="middle">3KR</T>

      <T x={539} y={492} size={23} anchor="middle" rotate={-90}>Polarization (mP)</T>
      <T x={857.5} y={716.7} size={24} anchor="middle">[LRH-1]</T>
      {lineLegend(641, 683, 695, 333, 360, 23.5, '#cc6a2c')}

      <T x={42} y={988} size={24.5} anchor="middle" rotate={-90}>Normalized Polarization</T>
      <T x={363} y={1171.7} size={24.5} anchor="middle">log [DNA]</T>
      {lineLegend(442, 484, 496, 835.7, 863, 24, RED)}

      <text transform="translate(715,986) rotate(-90)" fontSize={24} fontFamily={FONT} fill={INK} textAnchor="middle" dominantBaseline="central">
        IC<tspan dy={8} fontSize={18}>50</tspan><tspan dy={-8}> (M)</tspan>
      </text>

      <T x={78.5} y={1514} size={25} anchor="middle" rotate={-90}>I(q)</T>
      <text x={351} y={1780} fontSize={25} fontFamily={FONT} fill={INK} textAnchor="middle" dominantBaseline="central">
        q (Å<tspan dy={-8} fontSize={16}>-1</tspan><tspan dy={8}>)</tspan>
      </text>
      <circle cx={457} cy={1322} r={6.5} fill="none" stroke={BLUE} strokeWidth={1.5} />
      <circle cx={457} cy={1349} r={6.5} fill="none" stroke={RED} strokeWidth={1.5} />
      <T x={472} y={1322} size={18}>WT</T>
      <T x={472} y={1349} size={18}>S148R</T>
      <text x={271} y={1713} fontSize={17.5} fontFamily={FONT} fill={INK} textAnchor="middle" dominantBaseline="central">
        q<tspan dy={-6} fontSize={12}>2</tspan><tspan dy={6}> (Å</tspan><tspan dy={-6} fontSize={12}>-2</tspan><tspan dy={6}> x 10</tspan><tspan dy={-6} fontSize={12}>-3</tspan><tspan dy={6}>)</tspan>
      </text>

      <T x={654} y={1522} size={24} anchor="middle" rotate={-90}>P(r)</T>
      <T x={948} y={1785} size={24} anchor="middle">r (Å)</T>
      {lineLegend(1028.7, 1068.5, 1082, 1322, 1349.3, 18, RED, 1326.5, 1352.8, 1079)}
    </svg>
  );
}

export default function App() {
  return (
    <div style={{ position: 'absolute', left: 0, top: 0, width: 1222, height: 1800, background: '#fff' }}>
      <LogoPanel />
      <DomainPanel />
      <AssayPanel />
      <BindingPanel />
      <CompetitionPanel />
      <Ic50Panel />
      <SaxsPanel />
      <InsetPanel />
      <PrPanel />
      <Overlay />
    </div>
  );
}
